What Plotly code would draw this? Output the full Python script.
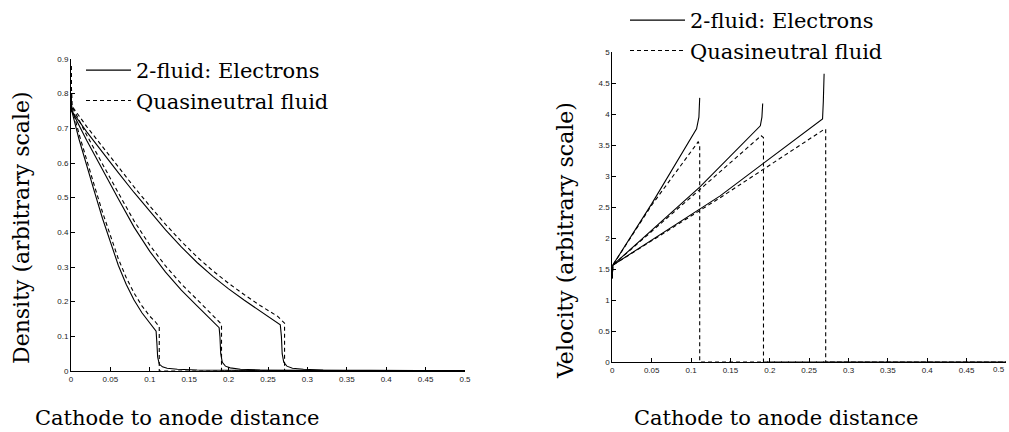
import plotly.graph_objects as go

# ---------------- Density panel (left) ----------------
dens_e1_x = [0, 0.001, 0.01, 0.02, 0.03, 0.04, 0.05, 0.06, 0.07, 0.08, 0.09, 0.10, 0.106, 0.108, 0.109, 0.110, 0.112, 0.116, 0.122, 0.135, 0.16, 0.2, 0.3, 0.5]
dens_e1_y = [0.80, 0.75, 0.67, 0.59, 0.515, 0.44, 0.37, 0.305, 0.25, 0.205, 0.168, 0.138, 0.122, 0.115, 0.08, 0.04, 0.02, 0.012, 0.008, 0.005, 0.003, 0.002, 0.001, 0.0005]
dens_e2_x = [0, 0.001, 0.02, 0.04, 0.06, 0.08, 0.10, 0.12, 0.14, 0.16, 0.18, 0.188, 0.189, 0.190, 0.192, 0.196, 0.202, 0.215, 0.24, 0.28, 0.35, 0.5]
dens_e2_y = [0.80, 0.75, 0.665, 0.58, 0.497, 0.415, 0.345, 0.285, 0.233, 0.188, 0.143, 0.125, 0.10, 0.05, 0.025, 0.014, 0.009, 0.005, 0.003, 0.002, 0.001, 0.0005]
dens_e3_x = [0, 0.001, 0.02, 0.04, 0.06, 0.08, 0.10, 0.12, 0.14, 0.16, 0.18, 0.20, 0.22, 0.24, 0.2656, 0.267, 0.268, 0.270, 0.274, 0.281, 0.295, 0.32, 0.37, 0.43, 0.5]
dens_e3_y = [0.80, 0.75, 0.69, 0.63, 0.572, 0.515, 0.46, 0.407, 0.358, 0.313, 0.273, 0.237, 0.204, 0.173, 0.133, 0.10, 0.05, 0.025, 0.014, 0.008, 0.005, 0.003, 0.002, 0.001, 0.0005]

dens_q1_x = [0, 0.001, 0.01, 0.02, 0.03, 0.04, 0.05, 0.06, 0.07, 0.08, 0.09, 0.10, 0.107, 0.112, 0.112, 0.5]
dens_q1_y = [0.88, 0.765, 0.685, 0.605, 0.532, 0.458, 0.388, 0.324, 0.27, 0.225, 0.188, 0.158, 0.142, 0.128, 0, 0]
dens_q2_x = [0, 0.001, 0.02, 0.04, 0.06, 0.08, 0.10, 0.12, 0.14, 0.16, 0.18, 0.188, 0.191, 0.191, 0.5]
dens_q2_y = [0.88, 0.765, 0.68, 0.596, 0.514, 0.433, 0.363, 0.303, 0.251, 0.206, 0.162, 0.144, 0.135, 0, 0]
dens_q3_x = [0, 0.001, 0.02, 0.04, 0.06, 0.08, 0.10, 0.12, 0.14, 0.16, 0.18, 0.20, 0.22, 0.24, 0.262, 0.268, 0.271, 0.271, 0.5]
dens_q3_y = [0.88, 0.765, 0.705, 0.646, 0.588, 0.531, 0.476, 0.423, 0.374, 0.329, 0.289, 0.253, 0.22, 0.189, 0.158, 0.146, 0.138, 0, 0]

# ---------------- Velocity panel (right) ----------------
vel_e1_x = [0, 0.0005, 0.05, 0.107, 0.110, 0.111]
vel_e1_y = [1.35, 1.56, 2.55, 3.76, 3.95, 4.26]
vel_e2_x = [0, 0.0005, 0.111, 0.188, 0.190, 0.191]
vel_e2_y = [1.35, 1.56, 2.82, 3.81, 3.95, 4.17]
vel_e3_x = [0, 0.0005, 0.137, 0.267, 0.268, 0.269]
vel_e3_y = [1.35, 1.56, 2.68, 3.92, 4.2, 4.65]

vel_q1_x = [0, 0.0005, 0.05, 0.109, 0.111, 0.111, 0.5]
vel_q1_y = [1.35, 1.56, 2.53, 3.55, 3.50, 0, 0]
vel_q2_x = [0, 0.0005, 0.111, 0.189, 0.192, 0.192, 0.5]
vel_q2_y = [1.35, 1.56, 2.78, 3.65, 3.62, 0, 0]
vel_q3_x = [0, 0.0005, 0.137, 0.270, 0.271, 0.271, 0.5]
vel_q3_y = [1.35, 1.56, 2.65, 3.76, 3.75, 0, 0]

x_ticks = [0, 0.05, 0.1, 0.15, 0.2, 0.25, 0.3, 0.35, 0.4, 0.45, 0.5]
x_ticktext = ["0", "0.05", "0.1", "0.15", "0.2", "0.25", "0.3", "0.35", "0.4", "0.45", "0.5"]
dens_ticks = [0, 0.1, 0.2, 0.3, 0.4, 0.5, 0.6, 0.7, 0.8, 0.9]
dens_ticktext = ["0", "0.1", "0.2", "0.3", "0.4", "0.5", "0.6", "0.7", "0.8", "0.9"]
vel_ticks = [0, 0.5, 1, 1.5, 2, 2.5, 3, 3.5, 4, 4.5, 5]
vel_ticktext = ["0", "0.5", "1", "1.5", "2", "2.5", "3", "3.5", "4", "4.5", "5"]

legend_solid = "2-fluid: Electrons"
legend_dashed = "Quasineutral fluid"
x_title = "Cathode to anode distance"
dens_title = "Density (arbitrary scale)"
vel_title = "Velocity (arbitrary scale)"

SERIF = "DejaVu Serif, serif"
SANS = "Liberation Sans, Arial, sans-serif"
solid = dict(color="black", width=1.1)
dashed = dict(color="black", width=1.1, dash="4px,3px")

fig = go.Figure()

def add(x, y, line, xa, ya, name, show, leg):
    fig.add_trace(go.Scatter(x=x, y=y, mode="lines", line=line, xaxis=xa, yaxis=ya,
                             name=name, showlegend=show, legend=leg, hoverinfo="skip"))

add(dens_e1_x, dens_e1_y, solid, "x", "y", legend_solid, True, "legend")
add(dens_q1_x, dens_q1_y, dashed, "x", "y", legend_dashed, True, "legend")
add(dens_e2_x, dens_e2_y, solid, "x", "y", legend_solid, False, "legend")
add(dens_q2_x, dens_q2_y, dashed, "x", "y", legend_dashed, False, "legend")
add(dens_e3_x, dens_e3_y, solid, "x", "y", legend_solid, False, "legend")
add(dens_q3_x, dens_q3_y, dashed, "x", "y", legend_dashed, False, "legend")

add(vel_e1_x, vel_e1_y, solid, "x2", "y2", legend_solid, True, "legend2")
add(vel_q1_x, vel_q1_y, dashed, "x2", "y2", legend_dashed, True, "legend2")
add(vel_e2_x, vel_e2_y, solid, "x2", "y2", legend_solid, False, "legend2")
add(vel_q2_x, vel_q2_y, dashed, "x2", "y2", legend_dashed, False, "legend2")
add(vel_e3_x, vel_e3_y, solid, "x2", "y2", legend_solid, False, "legend2")
add(vel_q3_x, vel_q3_y, dashed, "x2", "y2", legend_dashed, False, "legend2")

TICKFONT = dict(family=SANS, size=8, color="#222")
axis_common = dict(showline=True, linecolor="black", linewidth=1, mirror=False,
                   ticks="inside", ticklen=4, tickwidth=1, tickcolor="black",
                   showgrid=False, zeroline=False, automargin=False,
                   tickfont=TICKFONT)

W, H = 1009, 432
TF = dict(family=SERIF, size=21, color="black")
YTF = dict(family=SERIF, size=22, color="black")
fig.update_layout(
    template="none",
    width=W, height=H, margin=dict(l=0, r=0, t=0, b=0, autoexpand=False),
    paper_bgcolor="white", plot_bgcolor="white",
    xaxis=dict(domain=[71 / W, 465 / W], range=[0, 0.5], tickvals=x_ticks, ticktext=x_ticktext,
               anchor="y", **axis_common),
    yaxis=dict(domain=[61 / H, 373 / H], range=[0, 0.9], tickvals=dens_ticks, ticktext=dens_ticktext,
               anchor="x", **axis_common),
    xaxis2=dict(domain=[612.3 / W, 1006 / W], range=[0, 0.5], tickvals=x_ticks, ticktext=x_ticktext[:-1] + [""],
                anchor="y2", **axis_common),
    yaxis2=dict(domain=[70 / H, 380 / H], range=[0, 5], tickvals=vel_ticks, ticktext=vel_ticktext,
                anchor="x2", **axis_common),
    legend=dict(x=81 / W, y=(H - 50) / H, xanchor="left", yanchor="top", bgcolor="rgba(0,0,0,0)",
                font=TF, itemwidth=45, tracegroupgap=0),
    legend2=dict(x=625 / W, y=1.0, xanchor="left", yanchor="top", bgcolor="rgba(0,0,0,0)",
                 font=TF, itemwidth=55, tracegroupgap=0),
    annotations=[
        dict(text=x_title, x=177 / W, y=(H - 418) / H, xref="paper", yref="paper",
             xanchor="center", yanchor="middle", showarrow=False, font=TF),
        dict(text=x_title, x=776 / W, y=(H - 418) / H, xref="paper", yref="paper",
             xanchor="center", yanchor="middle", showarrow=False, font=TF),
        dict(text=dens_title, x=21 / W, y=(H - 228) / H, xref="paper", yref="paper", textangle=-90,
             xanchor="center", yanchor="middle", showarrow=False, font=YTF),
        dict(text=vel_title, x=565 / W, y=(H - 241) / H, xref="paper", yref="paper", textangle=-90,
             xanchor="center", yanchor="middle", showarrow=False, font=YTF),
        # last x tick label of the right panel, kept inside the page edge
        dict(text=x_ticktext[-1], x=x_ticks[-1], xref="x2", y=0, yref="y2",
             xanchor="right", yanchor="top", xshift=1, yshift=-1, showarrow=False, font=TICKFONT),
    ],
)

fig.write_html("out.html")
